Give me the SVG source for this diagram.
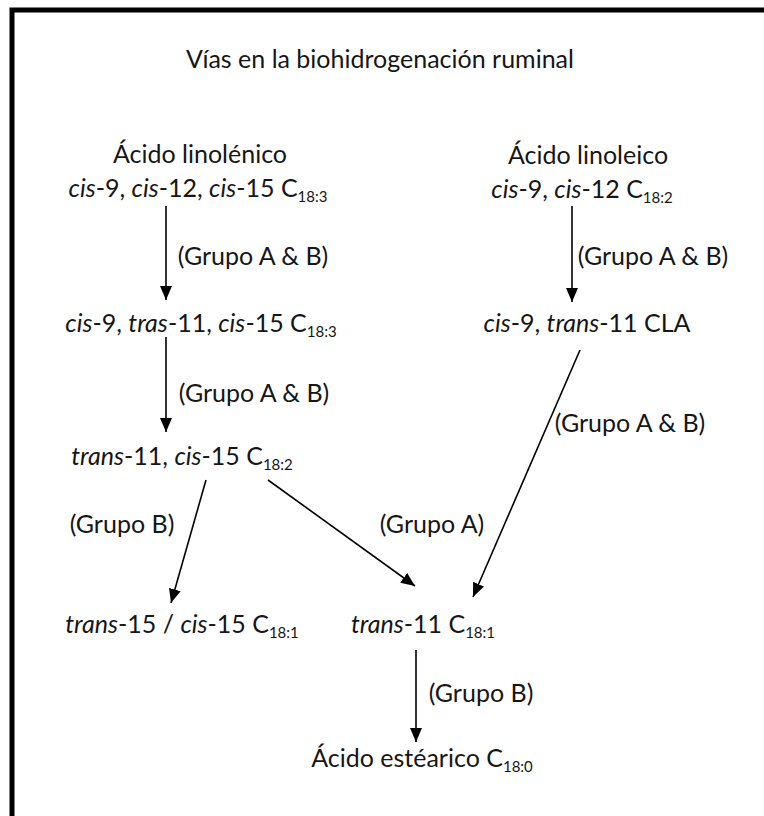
<svg xmlns="http://www.w3.org/2000/svg" width="764" height="816" viewBox="0 0 764 816">
  <defs>
    <marker id="head" viewBox="0 0 14 12" refX="14" refY="6" markerWidth="14" markerHeight="12" markerUnits="userSpaceOnUse" orient="auto">
      <path d="M0,0 L14,6 L0,12 z" fill="#000"/>
    </marker>
    <style>
      text { font-family: Lato, "Open Sans", "Liberation Sans", sans-serif; font-size: 25px; fill: #161616; text-anchor: middle; }
      .i { font-style: italic; }
      .sub { font-size: 15px; }
      .edge { stroke: #000; stroke-width: 1.6; fill: none; marker-end: url(#head); }
    </style>
  </defs>
  <rect width="764" height="816" fill="#fff"/>
  <!-- frame: only top and left edges fall inside the canvas -->
  <path d="M12,816 V10 H764" fill="none" stroke="#000" stroke-width="5"/>

  <text id="title" x="380" y="68">Vías en la biohidrogenación ruminal</text>

  <g id="connectors">
    <line class="edge" x1="166" y1="206" x2="166" y2="300"/>
    <line class="edge" x1="166" y1="337" x2="166" y2="432"/>
    <line class="edge" x1="572" y1="206" x2="572" y2="302"/>
    <line class="edge" x1="206" y1="480" x2="171" y2="603"/>
    <line class="edge" x1="268" y1="480" x2="415" y2="586"/>
    <line class="edge" x1="580" y1="350" x2="473" y2="597"/>
    <line class="edge" x1="416" y1="650" x2="416" y2="742"/>
    <text x="253" y="265">(Grupo A &amp; B)</text>
    <text x="254" y="402">(Grupo A &amp; B)</text>
    <text x="653" y="265">(Grupo A &amp; B)</text>
    <text x="630" y="432">(Grupo A &amp; B)</text>
    <text x="122" y="533">(Grupo B)</text>
    <text x="432" y="533">(Grupo A)</text>
    <text x="481" y="702">(Grupo B)</text>
  </g>

  <g id="linolenico">
    <text x="200" y="163">Ácido linolénico</text>
    <text x="198" y="197"><tspan class="i">cis</tspan>-9, <tspan class="i">cis</tspan>-12, <tspan class="i">cis</tspan>-15 C<tspan class="sub" dy="5">18:3</tspan></text>
  </g>

  <g id="linoleico">
    <text x="588" y="164">Ácido linoleico</text>
    <text x="582" y="198"><tspan class="i">cis</tspan>-9, <tspan class="i">cis</tspan>-12 C<tspan class="sub" dy="5">18:2</tspan></text>
  </g>

  <g id="c9t11c15">
    <text x="201" y="332"><tspan class="i">cis</tspan>-9, <tspan class="i">tras</tspan>-11, <tspan class="i">cis</tspan>-15 C<tspan class="sub" dy="5">18:3</tspan></text>
  </g>

  <g id="cla">
    <text x="587" y="332"><tspan class="i">cis</tspan>-9, <tspan class="i">trans</tspan>-11 CLA</text>
  </g>

  <g id="t11c15">
    <text x="182" y="465"><tspan class="i">trans</tspan>-11, <tspan class="i">cis</tspan>-15 C<tspan class="sub" dy="5">18:2</tspan></text>
  </g>

  <g id="t15c15">
    <text x="182" y="633"><tspan class="i">trans</tspan>-15 / <tspan class="i">cis</tspan>-15 C<tspan class="sub" dy="5">18:1</tspan></text>
  </g>

  <g id="t11">
    <text x="423" y="633"><tspan class="i">trans</tspan>-11 C<tspan class="sub" dy="5">18:1</tspan></text>
  </g>

  <g id="estearico">
    <text x="422" y="767">Ácido estéarico C<tspan class="sub" dy="5">18:0</tspan></text>
  </g>
</svg>
